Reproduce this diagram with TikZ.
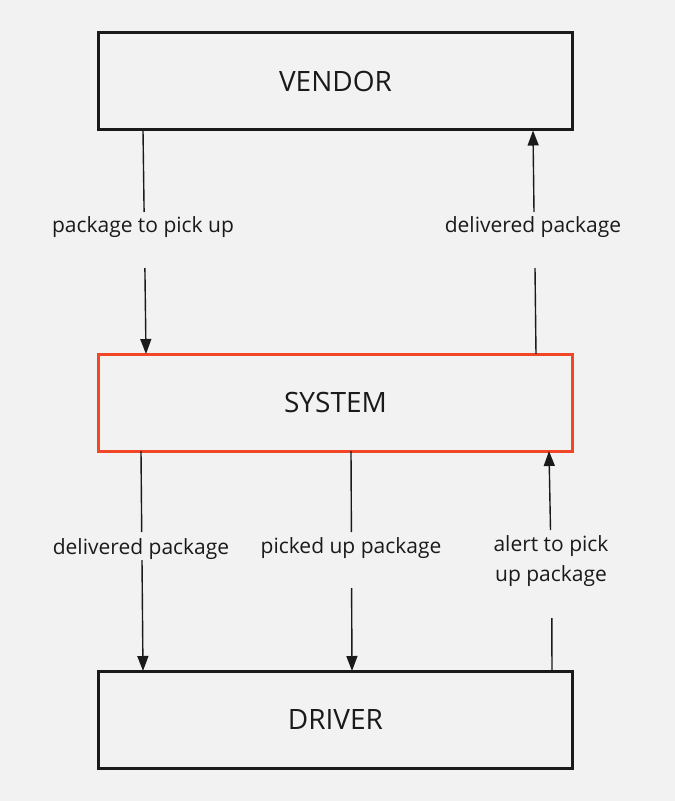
\documentclass[tikz,border=0pt]{standalone}
\usepackage{fontspec}
\setmainfont{Open Sans}
\usetikzlibrary{arrows.meta}
\definecolor{bg}{HTML}{F2F2F2}
\definecolor{ink}{HTML}{1A1A1A}
\definecolor{redline}{HTML}{F24726}
\tikzset{
  box/.style={draw=ink, line width=3pt, minimum width=474pt, minimum height=97pt, inner sep=0pt, outer sep=0pt, text=ink, font=\fontsize{28}{32}\selectfont},
  redbox/.style={box, draw=redline},
  conn/.style={draw=ink, line width=1.4pt},
  arr/.style={conn, -{Triangle[length=15pt,width=11pt]}},
  lbl/.style={text=ink, font=\fontsize{21}{30}\selectfont, align=center, inner sep=0pt}
}
\begin{document}
\begin{tikzpicture}[x=1pt,y=-1pt]
\fill[bg] (0,0) rectangle (675,801);
\useasboundingbox (0,0) rectangle (675,801);

\node[box] (vendor) at (335.5,81) {VENDOR};
\node[redbox] (system) at (335.5,402.5) {SYSTEM};
\node[box] (driver) at (335.5,719.5) {DRIVER};

% vendor -> system (package to pick up)
\coordinate (a1) at (144.1,212);
\coordinate (a2) at (144.9,268);
\draw[conn] ([xshift=44.5pt,yshift=-1pt]vendor.south west) -- (a1);
\draw[arr] (a2) -- ([xshift=47.5pt]system.north west);
\node[lbl] (la) at (143,227) {package to pick up};

% system -> vendor (delivered package)
\coordinate (b1) at (535,268);
\coordinate (b2) at (534,212);
\draw[conn] ([xshift=-36.5pt]system.north east) -- (b1);
\draw[arr] (b2) -- ([xshift=-39.5pt,yshift=-1pt]vendor.south east);
\node[lbl] (lb) at (533,227) {delivered package};

% system -> driver (delivered package)
\coordinate (c1) at (141.7,532);
\coordinate (c2) at (142,560);
\draw[conn] ([xshift=42.5pt]system.south west) -- (c1);
\draw[arr] (c2) -- ([xshift=44.5pt]driver.north west);
\node[lbl] (lc) at (141,549) {delivered package};

% system -> driver (picked up package)
\coordinate (d1) at (351.4,532);
\coordinate (d2) at (351.6,588);
\draw[conn] ([xshift=252.5pt]system.south west) -- (d1);
\draw[arr] (d2) -- ([xshift=253.5pt]driver.north west);
\node[lbl] (ld) at (351,548) {picked up package};

% driver -> system (alert to pick up package)
\coordinate (e1) at (551.8,618);
\coordinate (e2) at (550.5,530);
\draw[conn] ([xshift=-20.5pt]driver.north east) -- (e1);
\draw[arr] (e2) -- ([xshift=-23.5pt]system.south east);
\node[lbl] (le) at (551,561) {alert to pick\\ up package};
\end{tikzpicture}
\end{document}
